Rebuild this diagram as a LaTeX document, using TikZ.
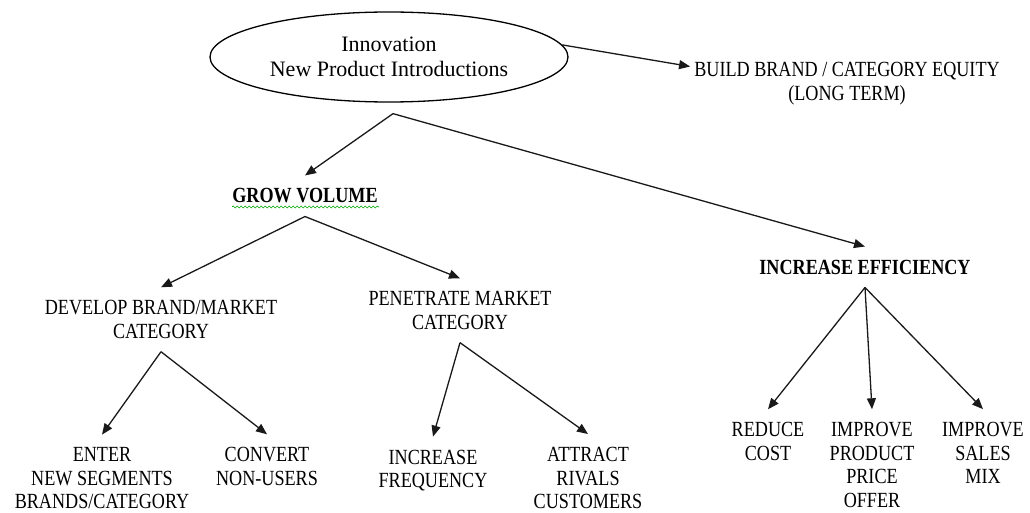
\documentclass[tikz,border=0pt]{standalone}
\usepackage{fontspec}
\setmainfont{Liberation Serif}
\newfontfamily\capsfont{Liberation Serif}[FakeStretch=0.84]
\usetikzlibrary{arrows.meta,shapes.geometric,decorations.pathmorphing,positioning}

\tikzset{
  lbl/.style={align=center, inner sep=13pt, font=\capsfont\fontsize{21.6}{23.5}\selectfont},
  hd/.style={lbl, font=\capsfont\fontsize{21.6}{23.5}\selectfont\bfseries},
  arr/.style={-{Triangle[length=11pt,width=9pt]}, line width=1.3pt, black!90},
}

\begin{document}
\begin{tikzpicture}[x=1pt,y=-1pt]
		\useasboundingbox (0,0) rectangle (1030,513);
		% top
		\node[draw, ellipse, line width=1.3pt, minimum width=358pt, minimum height=90pt, inner sep=0pt,
		      align=center, font=\fontsize{22}{25}\selectfont] (innov) at (389,57) {Innovation\\New Product Introductions};
		\node[lbl] (build) at (847,83.5) {BUILD BRAND / CATEGORY EQUITY\\(LONG TERM)};
		\node[hd] (gv) at (305,196) {GROW VOLUME};
		\node[hd] (ie) at (865,267) {INCREASE EFFICIENCY};
		% second level
		\node[lbl] (develop) at (161,319.5) {DEVELOP BRAND/MARKET\\CATEGORY};
		\node[lbl] (penetrate) at (460,310.5) {PENETRATE MARKET\\CATEGORY};
		% leaves
		\node[lbl] (enter) at (102,478.5) {ENTER\\NEW SEGMENTS\\BRANDS/CATEGORY};
		\node[lbl] (convert) at (267,466.5) {CONVERT\\NON-USERS};
		\node[lbl] (freq) at (433,470.5) {INCREASE\\FREQUENCY};
		\node[lbl] (attract) at (588,478) {ATTRACT\\RIVALS\\CUSTOMERS};
		\node[lbl] (reduce) at (768,441.5) {REDUCE\\COST};
		\node[lbl] (price) at (872,465) {IMPROVE\\PRODUCT\\PRICE\\OFFER};
		\node[lbl] (mix) at (983,453) {IMPROVE\\SALES\\MIX};
		% spell-check squiggle
		\draw[green!65!black, line width=0.6pt, decorate, decoration={snake, amplitude=1pt, segment length=4pt}]
			(232,207) -- (379,207);
		% arrows
		\coordinate (split) at ([xshift=4pt,yshift=-11pt]innov.south);
		\draw[arr] (innov.4) -- ([xshift=9pt,yshift=17pt]build.west);
		\draw[arr] (split) -- (gv.north);
		\draw[arr] (split) -- (ie.north);
		\draw[arr] (gv.south) -- (develop.north);
		\draw[arr] (gv.south) -- (penetrate.north);
		\draw[arr] (develop.south) -- (enter.north);
		\draw[arr] (develop.south) -- (convert.north);
		\draw[arr] (penetrate.south) -- (freq.north);
		\draw[arr] (penetrate.south) -- (attract.north);
		\draw[arr] (ie.south) -- (reduce.north);
		\draw[arr] (ie.south) -- (price.north);
		\draw[arr] (ie.south) -- (mix.north);
	\end{tikzpicture}
\end{document}
